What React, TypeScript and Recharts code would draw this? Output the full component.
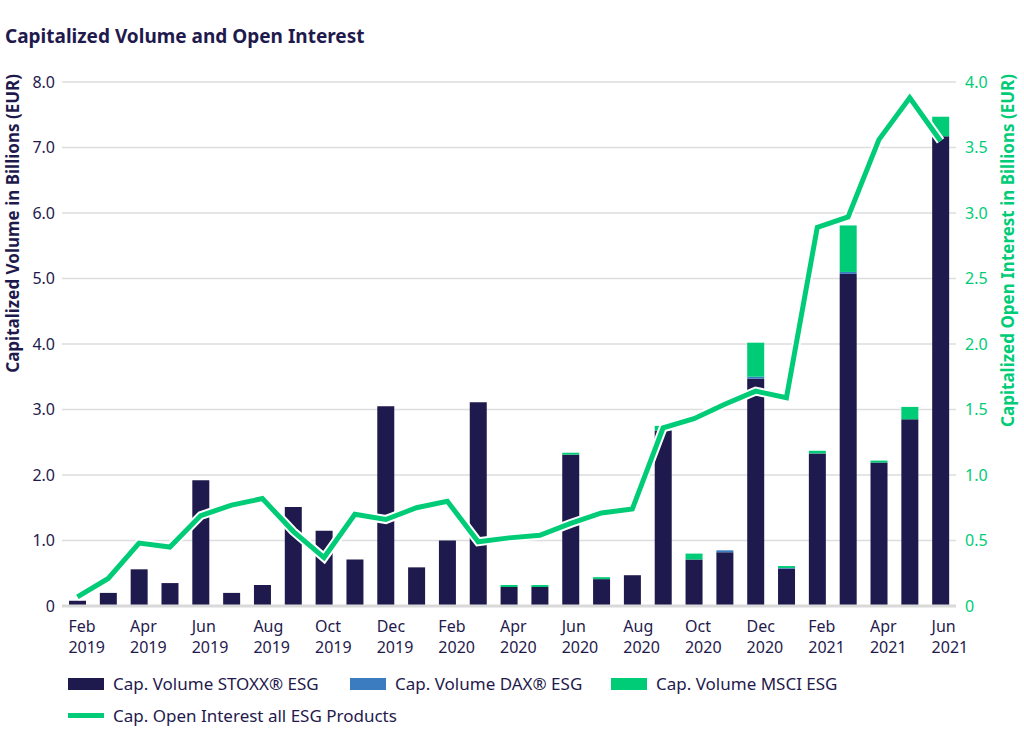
import React from "react";
import {Bar, CartesianGrid, ComposedChart, Label, Line, XAxis, YAxis} from "recharts";

const months = [
    "Feb 2019", "Mar 2019", "Apr 2019", "May 2019", "Jun 2019", "Jul 2019", "Aug 2019", "Sep 2019",
    "Oct 2019", "Nov 2019", "Dec 2019", "Jan 2020", "Feb 2020", "Mar 2020", "Apr 2020", "May 2020",
    "Jun 2020", "Jul 2020", "Aug 2020", "Sep 2020", "Oct 2020", "Nov 2020", "Dec 2020", "Jan 2021",
    "Feb 2021", "Mar 2021", "Apr 2021", "May 2021", "Jun 2021",
];

const stoxx = [0.08, 0.2, 0.56, 0.35, 1.92, 0.2, 0.32, 1.51, 1.15, 0.71, 3.05, 0.59, 1.0, 3.11, 0.29, 0.29,
    2.31, 0.41, 0.47, 2.68, 0.71, 0.82, 3.47, 0.57, 2.33, 5.07, 2.19, 2.85, 7.17];
const dax = [0, 0, 0, 0, 0, 0, 0, 0, 0, 0, 0, 0, 0, 0, 0, 0,
    0, 0, 0, 0, 0, 0.03, 0.03, 0.01, 0, 0.03, 0, 0, 0];
const msci = [0, 0, 0, 0, 0, 0, 0, 0, 0, 0, 0, 0, 0, 0, 0.03, 0.03,
    0.03, 0.03, 0, 0.07, 0.09, 0, 0.52, 0.03, 0.04, 0.71, 0.03, 0.19, 0.3];
const openInterest = [0.07, 0.21, 0.48, 0.45, 0.69, 0.77, 0.82, 0.57, 0.37, 0.70, 0.66, 0.75, 0.80, 0.49, 0.52, 0.54,
    0.63, 0.71, 0.74, 1.36, 1.43, 1.54, 1.64, 1.59, 2.89, 2.97, 3.56, 3.88, 3.55];

const leftTicks = [0, 1, 2, 3, 4, 5, 6, 7, 8];
const rightTicks = [0, 0.5, 1, 1.5, 2, 2.5, 3, 3.5, 4];

const NAVY = "#1f1a4d";
const BLUE = "#3b7bbf";
const GREEN = "#00cc77";
const FONT = "'Noto Sans', sans-serif";

const data = months.map((m, i) => ({
    month: m,
    stoxx: stoxx[i],
    dax: dax[i],
    msci: msci[i],
    oi: openInterest[i],
}));

const fmt = (v: number) => (v === 0 ? "0" : v.toFixed(1));

function MonthTick(props: any) {
    const {x, y, payload} = props;
    const [m, yr] = String(payload.value).split(" ");
    return (
        <text x={x - 9} y={y} textAnchor="start" fill={NAVY} fontSize={16} fontFamily={FONT}>
            <tspan x={x - 9} dy={24}>{m}</tspan>
            <tspan x={x - 9} dy={21}>{yr}</tspan>
        </text>
    );
}

const legendItems = [
    {label: "Cap. Volume STOXX® ESG", color: NAVY, left: 68, top: 675, line: false},
    {label: "Cap. Volume DAX® ESG", color: BLUE, left: 350, top: 675, line: false},
    {label: "Cap. Volume MSCI ESG", color: GREEN, left: 611, top: 675, line: false},
    {label: "Cap. Open Interest all ESG Products", color: GREEN, left: 68, top: 707, line: true},
];

export default function App() {
    return (
        <div style={{position: "absolute", left: 0, top: 0, width: 1024, height: 755, background: "#fff", fontFamily: FONT}}>
            <div style={{position: "absolute", left: 5, top: 23, fontSize: 19, fontWeight: 700, color: NAVY}}>
                Capitalized Volume and Open Interest
            </div>
            <div style={{position: "absolute", left: 0, top: 0}}>
                <ComposedChart
                    width={1024}
                    height={660}
                    data={data}
                    barSize={17}
                    margin={{top: 82, right: 0, left: 0, bottom: 0}}
                >
                    <CartesianGrid vertical={false} stroke="#dddddd" strokeWidth={1.5} yAxisId="left" />
                    <XAxis
                        dataKey="month"
                        interval={1}
                        tick={<MonthTick />}
                        tickLine={false}
                        tickSize={0}
                        axisLine={{stroke: "#d9d9d9", strokeWidth: 3}}
                        height={54}
                    />
                    <YAxis
                        yAxisId="left"
                        width={62}
                        domain={[0, 8]}
                        ticks={leftTicks}
                        tickFormatter={fmt}
                        axisLine={false}
                        tickLine={false}
                        tickSize={0}
                        tickMargin={7}
                        tick={{fill: NAVY, fontSize: 16, fontFamily: FONT}}
                    >
                        <Label
                            content={() => (
                                <text
                                    transform="translate(19,74) rotate(-90)"
                                    textAnchor="end"
                                    fill={NAVY}
                                    fontSize={17}
                                    fontWeight={700}
                                    fontFamily={FONT}
                                >
                                    Capitalized Volume in Billions (EUR)
                                </text>
                            )}
                        />
                    </YAxis>
                    <YAxis
                        yAxisId="right"
                        orientation="right"
                        width={68}
                        domain={[0, 4]}
                        ticks={rightTicks}
                        tickFormatter={fmt}
                        axisLine={false}
                        tickLine={false}
                        tickSize={0}
                        tickMargin={9}
                        tick={{fill: GREEN, fontSize: 16, fontFamily: FONT, textAnchor: "start"}}
                    >
                        <Label
                            content={() => (
                                <text
                                    transform="translate(1014,74) rotate(-90)"
                                    textAnchor="end"
                                    fill={GREEN}
                                    fontSize={17}
                                    fontWeight={700}
                                    fontFamily={FONT}
                                >
                                    Capitalized Open Interest in Billions (EUR)
                                </text>
                            )}
                        />
                    </YAxis>
                    <Bar yAxisId="left" dataKey="stoxx" stackId="vol" fill={NAVY} isAnimationActive={false} />
                    <Bar yAxisId="left" dataKey="dax" stackId="vol" fill={BLUE} isAnimationActive={false} />
                    <Bar yAxisId="left" dataKey="msci" stackId="vol" fill={GREEN} isAnimationActive={false} />
                    <Line
                        yAxisId="right"
                        type="linear"
                        dataKey="oi"
                        stroke="#ffffff"
                        strokeWidth={9}
                        dot={false}
                        activeDot={false}
                        legendType="none"
                        isAnimationActive={false}
                    />
                    <Line
                        yAxisId="right"
                        type="linear"
                        dataKey="oi"
                        stroke={GREEN}
                        strokeWidth={5}
                        dot={false}
                        activeDot={false}
                        isAnimationActive={false}
                    />
                </ComposedChart>
            </div>
            {legendItems.map((it) => (
                <div
                    key={it.label}
                    style={{position: "absolute", left: it.left, top: it.top, display: "flex", alignItems: "center", height: 17}}
                >
                    <div style={{width: 36, height: it.line ? 5 : 12, background: it.color, marginRight: 9}} />
                    <span style={{fontSize: 17, color: NAVY, whiteSpace: "nowrap"}}>{it.label}</span>
                </div>
            ))}
        </div>
    );
}
